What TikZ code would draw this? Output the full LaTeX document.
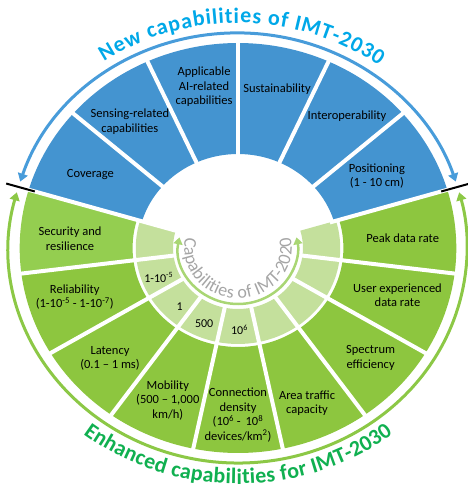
\documentclass[tikz,border=0pt]{standalone}
\usepackage{fontspec}
\setmainfont{Carlito}
\usepackage{tikz}
\usetikzlibrary{arrows.meta,decorations.text}
\definecolor{segblue}{RGB}{68,148,208}
\definecolor{seggreen}{RGB}{141,198,63}
\definecolor{seclight}{RGB}{148,206,80}
\definecolor{ringgreen}{RGB}{196,224,156}
\definecolor{titleblue}{RGB}{0,168,232}
\definecolor{titlegreen}{RGB}{16,176,80}
\definecolor{arcblue}{RGB}{72,156,218}
\definecolor{arcgreen}{RGB}{140,200,70}
\definecolor{textgray}{RGB}{165,165,165}

\begin{document}
\begin{tikzpicture}[x=1pt, y=1pt,
    lbl/.style={font=\fontsize{12.5}{14.5}\selectfont, align=center, text=black, inner sep=0pt},
    val/.style={font=\fontsize{12}{14}\selectfont, text=black, inner sep=0pt},
    gap/.style={white, line width=4pt},
    tick/.style={black, line width=2pt},
    ring/.style={line width=3pt, {Triangle[length=8pt,width=10pt]}-{Triangle[length=8pt,width=10pt]}},
    title/.style={decorate, decoration={text along path, text align=fit to path}},
]
\useasboundingbox (-238,-243) rectangle (229,248);
\begin{scope}[xscale=1.065]
% === New capabilities (blue sectors) ===
\foreach \i in {0,...,5}{
  \pgfmathsetmacro\a{16.5+24.5*\i}
  \pgfmathsetmacro\b{\a+24.5}
  \fill[segblue] (\a:94) arc[start angle=\a, end angle=\b, radius=94]
     -- (\b:205) arc[start angle=\b, end angle=\a, radius=205] -- cycle;
}
% === Enhanced capabilities (green sectors + IMT-2020 ring) ===
\foreach \i in {0,...,8}{
  \pgfmathsetmacro\a{163.5+23.667*\i}
  \pgfmathsetmacro\b{\a+23.667}
  \ifnum\i=0 \def\fc{seclight}\else\def\fc{seggreen}\fi
  \fill[\fc] (\a:99) arc[start angle=\a, end angle=\b, radius=99]
     -- (\b:205) arc[start angle=\b, end angle=\a, radius=205] -- cycle;
  \fill[ringgreen] (\a:61) arc[start angle=\a, end angle=\b, radius=61]
     -- (\b:96) arc[start angle=\b, end angle=\a, radius=96] -- cycle;
}
% --- white gaps ---
\foreach \a in {16.5,41,65.5,90,114.5,139}
  \draw[gap] (\a:90) -- (\a:207);
\foreach \i in {0,...,8}
  \draw[gap] ({163.5+23.667*\i}:58) -- ({163.5+23.667*\i}:207);

% --- outer arrows and ticks ---
\draw[ring, arcblue] (162:215) arc[start angle=162, end angle=18, radius=215];
\draw[ring, arcgreen] (165:215) arc[start angle=165, end angle=375, radius=215];
\draw[tick] (163.5:199) -- (163.5:227);
\draw[tick] (16.5:199) -- (16.5:227);

% --- inner arrow ---
\draw[arcgreen!75!white, line width=2.5pt, {Triangle[length=7pt,width=9pt]}-{Triangle[length=7pt,width=9pt]}]
     (169:56) arc[start angle=169, end angle=371, radius=56];

% --- curved titles ---
\path[title, decoration={text={|\fontsize{22}{22}\selectfont\bfseries\color{titleblue}|New capabilities of IMT-2030}}]
     (124:225) arc[start angle=124, end angle=54, radius=225];
\path[title, decoration={text={|\fontsize{22}{22}\selectfont\bfseries\color{titlegreen}|Enhanced capabilities for IMT-2030}}]
     (232:236) arc[start angle=232, end angle=308, radius=236];
\path[title, decoration={text={|\fontsize{18}{18}\selectfont\color{textgray}|Capabilities of IMT-2020}}]
     (168:50.5) arc[start angle=168, end angle=372, radius=50.5];

% === Labels: new ===
\node[lbl] (cov) at (152:157) {Coverage};
\node[lbl] (sens) at (128.8:162) {Sensing-related\\capabilities};
\node[lbl] (ai) at (101.2:164) {Applicable\\AI-related\\capabilities};
\node[lbl] (sust) at (77:163) {Sustainability};
\node[lbl] (inter) at (52.2:167) {Interoperability};
\node[lbl] (pos) at (28.9:149) {Positioning\\(1 - 10 cm)};

% === Labels: enhanced ===
\node[lbl] (sec) at (176.7:158) {Security and\\resilience};
\node[lbl] (rel) at (197.8:161) {Reliability\\(1-10\textsuperscript{-5} - 1-10\textsuperscript{-7})};
\node[lbl] (lat) at (222.5:163) {Latency\\(0.1 -- 1 ms)};
\node[lbl] (mob) at (246.6:166) {Mobility\\(500 -- 1,000\\km/h)};
\node[lbl] (conn) at (270:167) {Connection\\density\\(10\textsuperscript{6} - \,10\textsuperscript{8}\\devices/km\textsuperscript{2})};
\node[lbl] (area) at (292.7:168) {Area traffic\\capacity};
\node[lbl] (spec) at (318.6:166) {Spectrum\\efficiency};
\node[lbl] (user) at (342.5:157) {User experienced\\data rate};
\node[lbl] (peak) at (3.7:155) {Peak data rate};

% --- IMT-2020 values ---
\node[val] (vrel) at (201.6:80) {1-10\textsuperscript{-5}};
\node[val] (vlat) at (226.8:80) {1};
\node[val] (vmob) at (247.2:82) {500};
\node[val] (vcon) at (271:82) {10\textsuperscript{6}};
\end{scope}
\end{tikzpicture}
\end{document}
